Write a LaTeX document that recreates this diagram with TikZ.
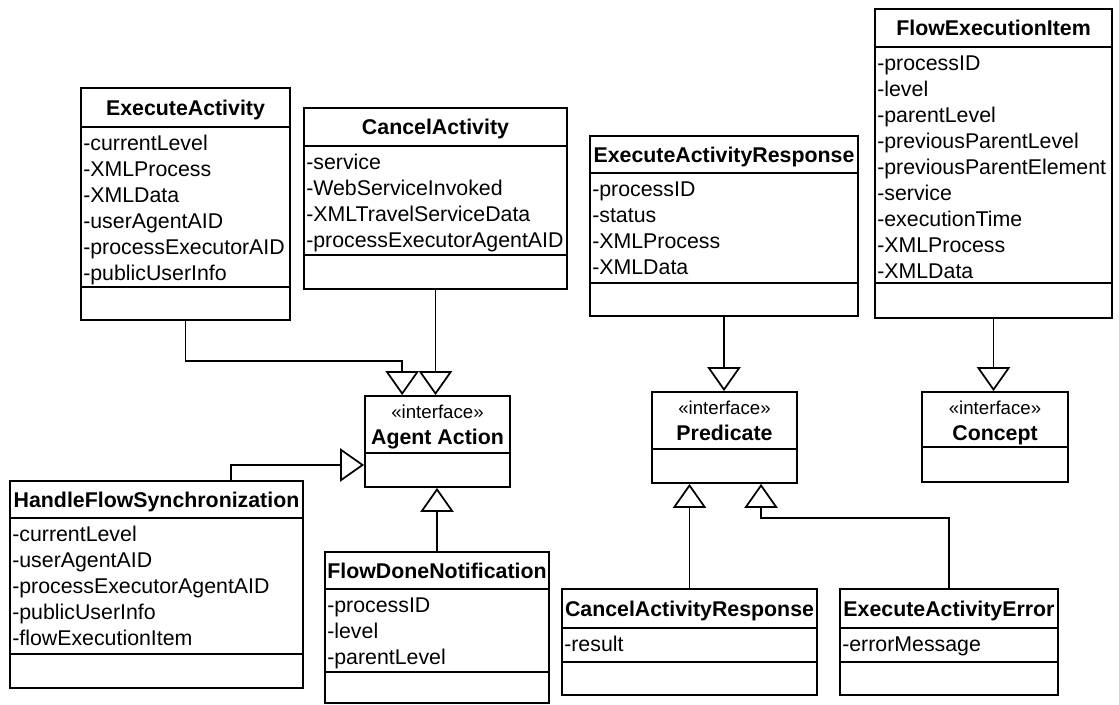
\documentclass[tikz,border=0pt]{standalone}
\usepackage{fontspec}
\setmainfont{Liberation Sans}
\usetikzlibrary{arrows.meta}
\tikzset{
  box/.style={draw, line width=1.4pt, rectangle, inner sep=0pt},
  sepline/.style={line width=1.3pt},
  title/.style={font=\fontsize{16}{19}\selectfont\bfseries, inner sep=0pt, text height=11.5pt, text depth=0pt},
  attr/.style={font=\fontsize{16}{19}\selectfont, anchor=west, inner sep=0pt, text height=11.5pt, text depth=0pt},
  stereo/.style={font=\fontsize{14}{17}\selectfont, inner sep=0pt, text height=8pt, text depth=0pt},
  inh/.style={line width=1.3pt, -{Triangle[open, length=18pt, width=25pt]}},
}
% name, left, top, right, header-bottom, attr-bottom, bottom, title, attributes
\newcommand\umlclass[9]{%
  \node[box, minimum width={(#4-#2)*0.75pt}, minimum height={(#7-#3)*0.75pt}] (#1) at ({(#2+#4)/2},{(#3+#7)/2}) {};
  \draw[sepline] (#2,#5) -- (#4,#5);
  \draw[sepline] (#2,#6) -- (#4,#6);
  \node[title] (#1-t) at ({(#2+#4)/2},{(#3+#5)/2}) {#8};
  \foreach \itm [count=\i from 0] in {#9} {\node[attr] (#1-a\i) at (#2+2, #5+16+26*\i) {\itm};}
}
% name, left, top, right, header-bottom, bottom, title
\newcommand\umliface[7]{%
  \node[box, minimum width={(#4-#2)*0.75pt}, minimum height={(#6-#3)*0.75pt}] (#1) at ({(#2+#4)/2},{(#3+#6)/2}) {};
  \draw[sepline] (#2,#5) -- (#4,#5);
  \node[stereo] (#1-s) at ({(#2+#4)/2},#3+17) {«interface»};
  \node[title] (#1-t) at ({(#2+#4)/2},#3+41) {#7};
}
\begin{document}
\begin{tikzpicture}[x=0.75pt,y=-0.75pt]
\useasboundingbox (0,0) rectangle (1119,704);

\umlclass{EA}{81}{88}{290}{127}{287}{320}{ExecuteActivity}{-currentLevel,-XMLProcess,-XMLData,-userAgentAID,-processExecutorAID,-publicUserInfo}
\umlclass{CA}{304}{108}{567}{146}{255}{289}{CancelActivity}{-service,-WebServiceInvoked,-XMLTravelServiceData,-processExecutorAgentAID}
\umlclass{EAR}{590}{136}{858}{173}{283}{316}{ExecuteActivityResponse}{-processID,-status,-XMLProcess,-XMLData}
\umlclass{FEI}{875}{9}{1112}{47}{283}{318}{FlowExecutionItem}{-processID,-level,-parentLevel,-previousParentLevel,-previousParentElement,-service,-executionTime,-XMLProcess,-XMLData}
\umlclass{HFS}{10}{481}{303}{518}{654}{688}{HandleFlowSynchronization}{-currentLevel,-userAgentAID,-processExecutorAgentAID,-publicUserInfo,-flowExecutionItem}
\umlclass{FDN}{325}{552}{549}{589}{672}{703}{FlowDoneNotification}{-processID,-level,-parentLevel}
\umlclass{CAR}{562}{589}{817}{628}{662}{695}{CancelActivityResponse}{-result}
\umlclass{EAE}{840}{589}{1058}{628}{662}{695}{ExecuteActivityError}{-errorMessage}

\umliface{AA}{365}{396}{510}{453}{487}{Agent Action}
\umliface{PR}{652}{392}{797}{449}{483}{Predicate}
\umliface{CO}{922}{392}{1068}{447}{482}{Concept}

% connectors
\draw[inh] (EA.south) -- ++(0,40) -| ([xshift=-26.5pt]AA.north);
\draw[inh] (CA.south) -- (CA.south |- AA.north);
\draw[inh] ([xshift=55.9pt]HFS.north) |- ([yshift=-17.6pt]AA.west);
\draw[inh] (FDN.north) -- (FDN.north |- AA.south);
\draw[inh] (EAR.south) -- (EAR.south |- PR.north);
\draw[inh] (CAR.north) -- (CAR.north |- PR.south);
\draw[inh] (EAE.north) -- ++(0,-70) -| ([xshift=27.4pt]PR.south);
\draw[inh] (FEI.south) -- (FEI.south |- CO.north);
\end{tikzpicture}
\end{document}
